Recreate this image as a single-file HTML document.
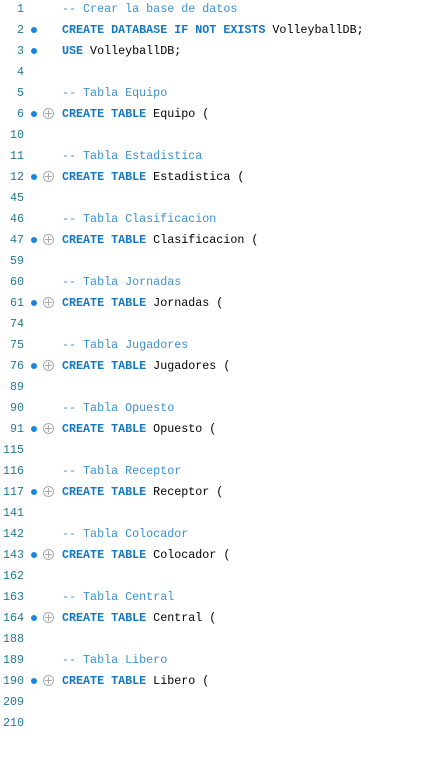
<!DOCTYPE html>
<html><head><meta charset="utf-8"><style>
body{margin:0;background:#fff;width:425px;height:769px;overflow:hidden;font-family:"Liberation Mono",monospace;font-size:11.7px;}
.l{position:absolute;left:0;height:21px;line-height:21px;width:425px;}
.n{position:absolute;right:401px;color:#237893;}
.d{position:absolute;left:31px;top:7px;width:6px;height:6px;border-radius:50%;background:#1a85e0;}
.p{position:absolute;left:43px;top:4px;width:11px;height:11px;border:1px solid #aaa;border-radius:50%;box-sizing:border-box;}
.p:before{content:"";position:absolute;left:4px;top:1px;width:1px;height:7px;background:#aaa;}
.p:after{content:"";position:absolute;left:1px;top:4px;width:7px;height:1px;background:#aaa;}
.c{position:absolute;left:62px;white-space:pre;color:#000;}
.k{color:#1577c0;font-weight:bold;}
.m{color:#3a90d0;}
</style></head><body>
<div class="l" style="top:-1px"><span class="n">1</span><span class="c"><span class="m">-- Crear la base de datos</span></span></div>
<div class="l" style="top:20px"><span class="n">2</span><span class="d"></span><span class="c"><span class="k">CREATE DATABASE IF NOT EXISTS</span> VolleyballDB;</span></div>
<div class="l" style="top:41px"><span class="n">3</span><span class="d"></span><span class="c"><span class="k">USE</span> VolleyballDB;</span></div>
<div class="l" style="top:62px"><span class="n">4</span></div>
<div class="l" style="top:83px"><span class="n">5</span><span class="c"><span class="m">-- Tabla Equipo</span></span></div>
<div class="l" style="top:104px"><span class="n">6</span><span class="d"></span><span class="p"></span><span class="c"><span class="k">CREATE TABLE</span> Equipo (</span></div>
<div class="l" style="top:125px"><span class="n">10</span></div>
<div class="l" style="top:146px"><span class="n">11</span><span class="c"><span class="m">-- Tabla Estadistica</span></span></div>
<div class="l" style="top:167px"><span class="n">12</span><span class="d"></span><span class="p"></span><span class="c"><span class="k">CREATE TABLE</span> Estadistica (</span></div>
<div class="l" style="top:188px"><span class="n">45</span></div>
<div class="l" style="top:209px"><span class="n">46</span><span class="c"><span class="m">-- Tabla Clasificacion</span></span></div>
<div class="l" style="top:230px"><span class="n">47</span><span class="d"></span><span class="p"></span><span class="c"><span class="k">CREATE TABLE</span> Clasificacion (</span></div>
<div class="l" style="top:251px"><span class="n">59</span></div>
<div class="l" style="top:272px"><span class="n">60</span><span class="c"><span class="m">-- Tabla Jornadas</span></span></div>
<div class="l" style="top:293px"><span class="n">61</span><span class="d"></span><span class="p"></span><span class="c"><span class="k">CREATE TABLE</span> Jornadas (</span></div>
<div class="l" style="top:314px"><span class="n">74</span></div>
<div class="l" style="top:335px"><span class="n">75</span><span class="c"><span class="m">-- Tabla Jugadores</span></span></div>
<div class="l" style="top:356px"><span class="n">76</span><span class="d"></span><span class="p"></span><span class="c"><span class="k">CREATE TABLE</span> Jugadores (</span></div>
<div class="l" style="top:377px"><span class="n">89</span></div>
<div class="l" style="top:398px"><span class="n">90</span><span class="c"><span class="m">-- Tabla Opuesto</span></span></div>
<div class="l" style="top:419px"><span class="n">91</span><span class="d"></span><span class="p"></span><span class="c"><span class="k">CREATE TABLE</span> Opuesto (</span></div>
<div class="l" style="top:440px"><span class="n">115</span></div>
<div class="l" style="top:461px"><span class="n">116</span><span class="c"><span class="m">-- Tabla Receptor</span></span></div>
<div class="l" style="top:482px"><span class="n">117</span><span class="d"></span><span class="p"></span><span class="c"><span class="k">CREATE TABLE</span> Receptor (</span></div>
<div class="l" style="top:503px"><span class="n">141</span></div>
<div class="l" style="top:524px"><span class="n">142</span><span class="c"><span class="m">-- Tabla Colocador</span></span></div>
<div class="l" style="top:545px"><span class="n">143</span><span class="d"></span><span class="p"></span><span class="c"><span class="k">CREATE TABLE</span> Colocador (</span></div>
<div class="l" style="top:566px"><span class="n">162</span></div>
<div class="l" style="top:587px"><span class="n">163</span><span class="c"><span class="m">-- Tabla Central</span></span></div>
<div class="l" style="top:608px"><span class="n">164</span><span class="d"></span><span class="p"></span><span class="c"><span class="k">CREATE TABLE</span> Central (</span></div>
<div class="l" style="top:629px"><span class="n">188</span></div>
<div class="l" style="top:650px"><span class="n">189</span><span class="c"><span class="m">-- Tabla Libero</span></span></div>
<div class="l" style="top:671px"><span class="n">190</span><span class="d"></span><span class="p"></span><span class="c"><span class="k">CREATE TABLE</span> Libero (</span></div>
<div class="l" style="top:692px"><span class="n">209</span></div>
<div class="l" style="top:713px"><span class="n">210</span></div>
</body></html>
